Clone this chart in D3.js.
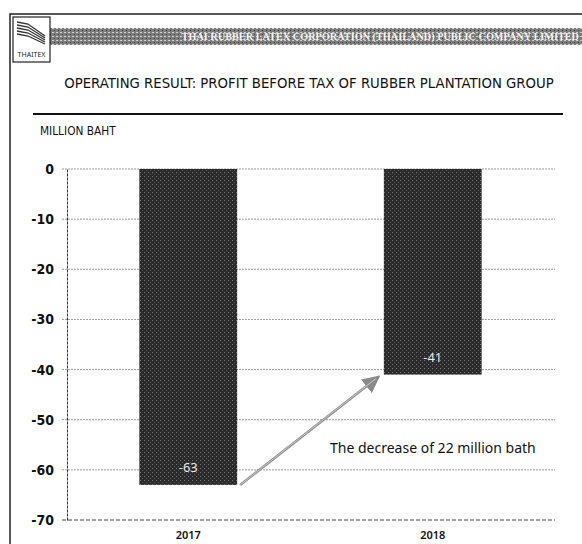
<!DOCTYPE html>
<html><head><meta charset="utf-8">
<script src="https://cdn.jsdelivr.net/npm/d3@7/dist/d3.min.js"></script>
<style>body{margin:0;background:#fff}svg{display:block}</style>
</head><body><svg id="c" width="582" height="544"></svg>
<script>
const categories = ["2017", "2018"];
const values = [-63, -41];
const valueLabels = ["-63", "-41"];
const yTicks = [0, -10, -20, -30, -40, -50, -60, -70];
const titleText = "OPERATING RESULT: PROFIT BEFORE TAX OF RUBBER PLANTATION GROUP";
const headerText = "THAI RUBBER LATEX CORPORATION (THAILAND) PUBLIC COMPANY LIMITED";
const unitText = "MILLION BAHT";
const noteText = "The decrease of 22 million bath";

const svg = d3.select("#c");
const font = "'Noto Sans', 'DejaVu Sans', sans-serif";
const narrow = "'Liberation Sans Narrow', 'DejaVu Sans Condensed', 'Noto Sans', sans-serif";

// shrink font size until text fits the width
function fit(sel, maxW, size) {
  sel.attr("font-size", size);
  let w = sel.node().getComputedTextLength();
  while (w > maxW && size > 6) { size -= 0.25; sel.attr("font-size", size); w = sel.node().getComputedTextLength(); }
  return sel;
}

const defs = svg.append("defs");
const pat = defs.append("pattern").attr("id","dith").attr("width",4).attr("height",4).attr("patternUnits","userSpaceOnUse");
pat.append("rect").attr("width",4).attr("height",4).attr("fill","#2a2a2a");
pat.append("rect").attr("x",0).attr("y",0).attr("width",1).attr("height",1).attr("fill","#7a7a7a");
pat.append("rect").attr("x",2).attr("y",2).attr("width",1).attr("height",1).attr("fill","#5a5a5a");
const pat2 = defs.append("pattern").attr("id","band").attr("width",4).attr("height",4).attr("patternUnits","userSpaceOnUse");
pat2.append("rect").attr("width",4).attr("height",4).attr("fill","#7c7c7c");
pat2.append("rect").attr("x",0).attr("y",0).attr("width",2).attr("height",1).attr("fill","#cfcfcf");
pat2.append("rect").attr("x",2).attr("y",2).attr("width",1).attr("height",1).attr("fill","#444");
defs.append("marker").attr("id","arr").attr("viewBox","0 0 10 10").attr("refX",9).attr("refY",5)
  .attr("markerWidth",7).attr("markerHeight",7).attr("orient","auto")
  .append("path").attr("d","M0,0 L10,5 L0,10 z").attr("fill","#8a8a8a");

// frame
svg.append("path").attr("d","M10,544 L10,14 L582,14").attr("fill","none").attr("stroke","#222").attr("stroke-width",1.5);
// header band
svg.append("rect").attr("x",50).attr("y",28).attr("width",532).attr("height",17).attr("fill","url(#band)");
const ht = svg.append("text").attr("x",579).attr("y",40).attr("text-anchor","end")
  .attr("font-family","'Liberation Serif', serif").attr("font-weight","bold")
  .attr("fill","#f4f4f4").text(headerText);
fit(ht, 400, 11);
// logo
const lg = svg.append("g");
lg.append("rect").attr("x",13).attr("y",17).attr("width",37).attr("height",45).attr("fill","#fff").attr("stroke","#222").attr("stroke-width",1.2);
for (let i=0;i<5;i++){
  lg.append("path").attr("d",`M17,${22+i*3} L28,${24+i*3} L45,${36+i*2}`).attr("fill","none").attr("stroke","#333").attr("stroke-width",1.3);
}
lg.append("text").attr("x",31.5).attr("y",57).attr("text-anchor","middle").attr("font-family",font).attr("font-size",7).attr("fill","#222").text("THAITEX");

// title
const tt = svg.append("text").attr("x",309).attr("y",88).attr("text-anchor","middle")
  .attr("font-family",narrow).attr("font-stretch","condensed").attr("fill","#111").text(titleText);
fit(tt, 492, 18);
svg.append("line").attr("x1",33).attr("x2",563).attr("y1",114).attr("y2",114).attr("stroke","#111").attr("stroke-width",2);
const ut = svg.append("text").attr("x",40).attr("y",135).attr("font-family",narrow).attr("font-stretch","condensed")
  .attr("fill","#111").text(unitText);
fit(ut, 76, 12);

// scales
const x = d3.scaleBand().domain(categories).range([66,555]).paddingInner(0.6).paddingOuter(0.3);
const y = d3.scaleLinear().domain([-70,0]).range([520,169]);

// gridlines
svg.append("g").selectAll("line").data(yTicks).join("line")
  .attr("x1",62).attr("x2",555).attr("y1",d=>y(d)).attr("y2",d=>y(d))
  .attr("stroke",d=>d===-70?"#444":"#999").attr("stroke-width",1)
  .attr("stroke-dasharray",d=>d===-70?"4,2":"2,1");

// y axis
const yAxis = d3.axisLeft(y).tickValues(yTicks).tickSize(0).tickPadding(13).tickFormat(d=>String(d));
const ya = svg.append("g").attr("transform","translate(67,0)").call(yAxis);
ya.select(".domain").attr("stroke","#333").attr("stroke-dasharray","3,1");
ya.selectAll("text").attr("font-family",narrow).attr("font-stretch","condensed").attr("font-size",14).attr("fill","#111").attr("font-weight","bold");

// bars
svg.selectAll("rect.bar").data(values).join("rect").attr("class","bar")
  .attr("x",(d,i)=>x(categories[i])).attr("width",x.bandwidth())
  .attr("y",y(0)).attr("height",d=>y(d)-y(0)).attr("fill","url(#dith)");

// value labels
svg.selectAll("text.vl").data(values).join("text").attr("class","vl")
  .attr("x",(d,i)=>x(categories[i])+x.bandwidth()/2).attr("y",d=>y(d)-13)
  .attr("text-anchor","middle").attr("font-family",font).attr("font-size",13).attr("fill","#e8e8e8")
  .text((d,i)=>valueLabels[i]);

// x axis labels
const xAxis = d3.axisBottom(x).tickSize(0).tickPadding(9);
const xa = svg.append("g").attr("transform","translate(0,522)").call(xAxis);
xa.select(".domain").remove();
xa.selectAll("text").attr("font-family",font).attr("font-size",11).attr("fill","#111").attr("font-weight","600");

// arrow
const x0 = x(categories[0])+x.bandwidth(), x1 = x(categories[1]);
svg.append("line").attr("x1",x0+3).attr("y1",y(values[0])).attr("x2",x1-5).attr("y2",y(values[1])+2)
  .attr("stroke","#8a8a8a").attr("stroke-width",2.5).attr("marker-end","url(#arr)");
svg.append("line").attr("x1",x0+3).attr("y1",y(values[0])).attr("x2",x1-8).attr("y2",y(values[1])+4)
  .attr("stroke","#d8d8d8").attr("stroke-width",0.8);

// note
const nt = svg.append("text").attr("x",330).attr("y",453).attr("font-family",font).attr("fill","#111").text(noteText);
fit(nt, 206, 14);
</script></body></html>
